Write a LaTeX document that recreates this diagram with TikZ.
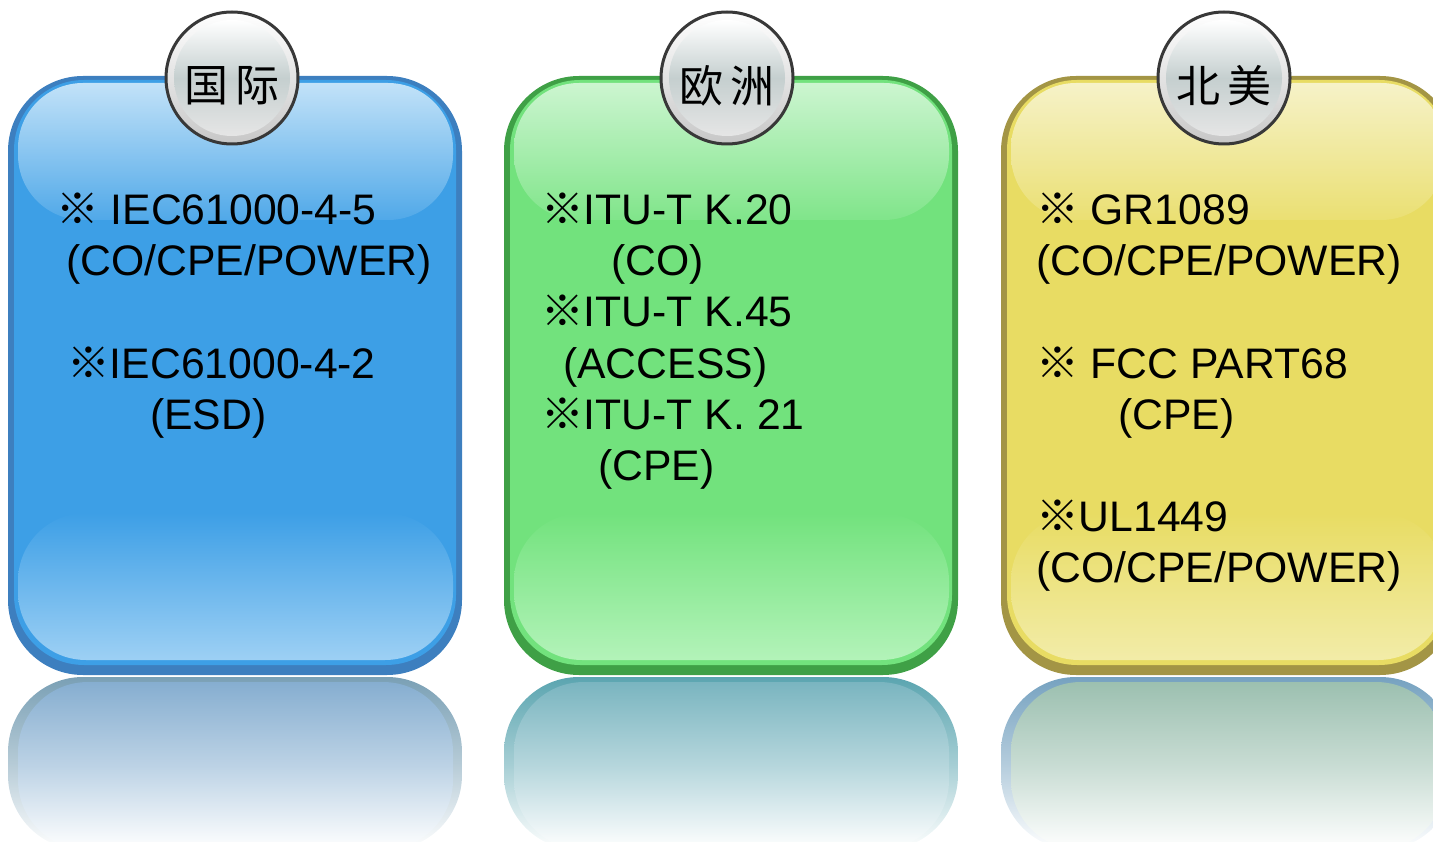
\documentclass[tikz,border=0pt]{standalone}
\usepackage{fontspec}
\setmainfont{Liberation Sans}
\newfontfamily\cjk{Noto Sans CJK SC}
\usepackage{tikz}
\usetikzlibrary{positioning}

\newcommand{\rmark}{{\cjk ※}}

% panel colours
\definecolor{blueedge}{HTML}{3D7FBF}
\definecolor{bluefill}{HTML}{3D9FE6}
\definecolor{bluehigh}{HTML}{C2E2F8}
\definecolor{bluelow}{HTML}{9DD0F4}
\definecolor{bluerefl}{HTML}{7AA0B5}
\definecolor{bluereflin}{HTML}{86AED0}
\definecolor{greenedge}{HTML}{3FA046}
\definecolor{greenfill}{HTML}{72E27D}
\definecolor{greenhigh}{HTML}{CCF5D0}
\definecolor{greenlow}{HTML}{B3F3B9}
\definecolor{greenrefl}{HTML}{5BA5B0}
\definecolor{greenreflin}{HTML}{7AB5C0}
\definecolor{yellowedge}{HTML}{A39545}
\definecolor{yellowfill}{HTML}{E8DC63}
\definecolor{yellowhigh}{HTML}{F6F2C8}
\definecolor{yellowlow}{HTML}{F2ECA8}
\definecolor{yellowrefl}{HTML}{76A2C0}
\definecolor{yellowreflin}{HTML}{9CC0B0}
\definecolor{badgemid}{HTML}{C5CFCF}

\tikzset{
  rim/.style={fill=#1edge, rounded corners=75pt},
  body/.style={fill=#1fill, rounded corners=70pt},
  shine/.style={top color=#1high, bottom color=#1fill!90!white, rounded corners=65pt},
  glow/.style={top color=#1fill, bottom color=#1low, rounded corners=68pt},
  mirror/.style={top color=#1refl, bottom color=white, middle color=#1refl!55!white, rounded corners=75pt},
  mirrorin/.style={top color=#1reflin, bottom color=white, middle color=#1reflin!55!white, rounded corners=70pt},
  badge/.style={circle, minimum size=132pt, inner sep=0pt, draw=black!78, line width=3pt,
    top color=white, bottom color=black!22},
  badgetext/.style={font=\cjk\fontsize{44}{44}\selectfont},
  item/.style={anchor=base west, inner sep=0pt, font=\fontsize{42.7}{50}\selectfont}
}

\begin{document}
\begin{tikzpicture}[x=1pt, y=-1pt]
    \useasboundingbox (0,0) rectangle (1433,842);

    % reflections under the panels
    \shade[mirror=blue] (8,677) rectangle (462,850);
    \shade[mirrorin=blue] (18,682) rectangle (453,850);
    \shade[mirror=green] (504,677) rectangle (958,850);
    \shade[mirrorin=green] (514,682) rectangle (949,850);
    \shade[mirror=yellow] (1001,677) rectangle (1455,850);
    \shade[mirrorin=yellow] (1011,682) rectangle (1446,850);

    % blue panel
    \fill[rim=blue] (8,76) rectangle (462,675);
    \fill[body=blue] (14,80) rectangle (456,665);
    \shade[shine=blue] (18,83) rectangle (453,220);
    \shade[glow=blue] (18,513) rectangle (453,660);

    % green panel
    \fill[rim=green] (504,76) rectangle (958,675);
    \fill[body=green] (510,80) rectangle (952,665);
    \shade[shine=green] (514,83) rectangle (949,220);
    \shade[glow=green] (514,513) rectangle (949,660);

    % yellow panel
    \fill[rim=yellow] (1001,76) rectangle (1455,675);
    \fill[body=yellow] (1007,80) rectangle (1449,665);
    \shade[shine=yellow] (1011,83) rectangle (1446,220);
    \shade[glow=yellow] (1011,513) rectangle (1446,660);

    % the round badges on top
    \node[badge] (intl) at (232,78) {};
    \node[badge] (eu) at (727,78) {};
    \node[badge] (na) at (1224,78) {};
    \shade[top color=white, bottom color=black!10, middle color=badgemid] (intl.center) circle [radius=58];
    \shade[top color=white, bottom color=black!10, middle color=badgemid] (eu.center) circle [radius=58];
    \shade[top color=white, bottom color=black!10, middle color=badgemid] (na.center) circle [radius=58];
    \node[badgetext] (intltext) at ([yshift=-8pt]intl.center) {国\hspace{7pt}际};
    \node[badgetext] (eutext) at ([yshift=-8pt]eu.center) {欧\hspace{7pt}洲};
    \node[badgetext] (natext) at ([yshift=-8pt]na.center) {北\hspace{7pt}美};

    % international standards
    \node[item] (intl1) at (56,225) {\rmark\ IEC61000-4-5};
    \node[item] (intl2) at (66,276) {(CO/CPE/POWER)};
    \node[item] (intl3) at (67,378) {\rmark IEC61000-4-2};
    \node[item] (intl4) at (150,429) {(ESD)};

    % european standards
    \node[item] (eu1) at (541,225) {\rmark ITU-T K.20};
    \node[item] (eu2) at (611,276) {(CO)};
    \node[item] (eu3) at (541,327) {\rmark ITU-T K.45};
    \node[item] (eu4) at (563,378) {(ACCESS)};
    \node[item] (eu5) at (541,429) {\rmark ITU-T K. 21};
    \node[item] (eu6) at (598,480) {(CPE)};

    % north american standards
    \node[item] (na1) at (1036,225) {\rmark\ GR1089};
    \node[item] (na2) at (1036,276) {(CO/CPE/POWER)};
    \node[item] (na3) at (1036,378) {\rmark\ FCC PART68};
    \node[item] (na4) at (1118,429) {(CPE)};
    \node[item] (na5) at (1036,531) {\rmark UL1449};
    \node[item] (na6) at (1036,582) {(CO/CPE/POWER)};

\end{tikzpicture}
\end{document}
